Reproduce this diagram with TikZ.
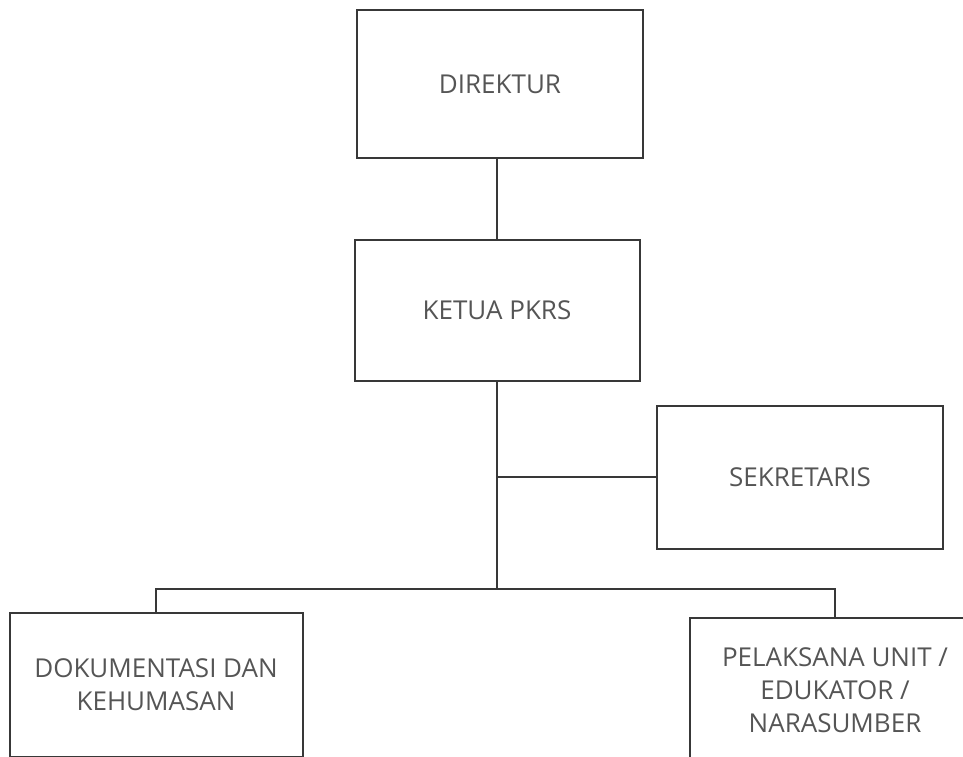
\documentclass[tikz,border=0pt]{standalone}
\usepackage{fontspec}
\setmainfont{Open Sans}
\usetikzlibrary{positioning}

\definecolor{boxline}{HTML}{383838}
\definecolor{boxtext}{HTML}{555555}

\tikzstyle{unit} = [rectangle, draw=boxline, line width=2pt, text=boxtext
                   , minimum width=286pt, minimum height=144pt
                   , align=center, font=\fontsize{26}{33}\selectfont]
\tikzstyle{link} = [draw=boxline, line width=2pt]

\begin{document}
\begin{tikzpicture}[x=1pt, y=-1pt]

\useasboundingbox (0,0) rectangle (963,757);
\clip (0,0) rectangle (963,757);

%% Direktur Node
\node [unit, minimum height=148pt] (Direktur-Box) at (500,84) {DIREKTUR};

%% Ketua Node
\node [unit, minimum height=141pt, minimum width=285pt] (Ketua-Box) at (497,310) {KETUA PKRS};

%% Sekretaris Node
\node [unit, minimum height=143pt] (Sekretaris-Box) at (800,477) {SEKRETARIS};

%% Bottom row
\node [unit, minimum width=293pt] (Dokumentasi-Box) at (156,685) {DOKUMENTASI DAN\\KEHUMASAN};
\node [unit, minimum width=290pt] (Pelaksana-Box) at (835,690) {PELAKSANA UNIT /\\EDUKATOR /\\NARASUMBER};

%% Connectors
\coordinate (Branch-Bar) at (497,589);
\draw [link] (Ketua-Box.north) -- (Ketua-Box.north |- Direktur-Box.south);
\draw [link] (Ketua-Box.south) -- (Branch-Bar);
\draw [link] (Ketua-Box.south |- Sekretaris-Box.west) -- (Sekretaris-Box.west);
\draw [link] (Dokumentasi-Box.north) |- (Branch-Bar) -| (Pelaksana-Box.north);

\end{tikzpicture}
\end{document}
